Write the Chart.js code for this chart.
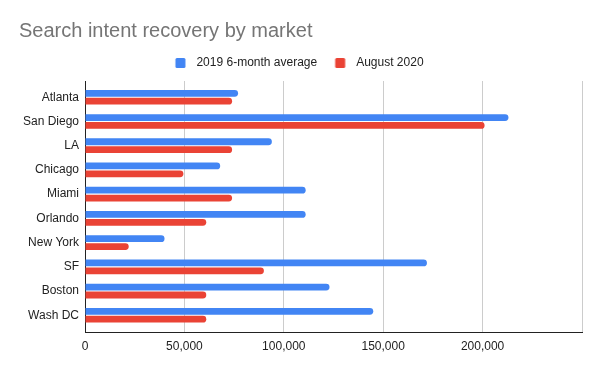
<!DOCTYPE html>
<html>
<head>
<meta charset="utf-8">
<title>Search intent recovery by market</title>
<script src="https://cdn.jsdelivr.net/npm/chart.js@4/dist/chart.umd.min.js"></script>
<style>
    body { margin: 0; background: #fff; }
    #wrap { width: 600px; height: 371px; position: relative; }
</style>
</head>
<body>
<div id="wrap"><canvas id="marketChart"></canvas></div>
<script>
const markets = ['Atlanta', 'San Diego', 'LA', 'Chicago', 'Miami', 'Orlando', 'New York', 'SF', 'Boston', 'Wash DC'];
const avg2019 = [77000, 213000, 94000, 68000, 111000, 111000, 40000, 172000, 123000, 145000];
const aug2020 = [74000, 201000, 74000, 49500, 74000, 61000, 22000, 90000, 61000, 61000];
const xTickLabels = ['0', '50,000', '100,000', '150,000', '200,000', ''];

const FONT = "'Liberation Sans', Arial, sans-serif";

// legend marker: square sits left of the item start so the gap to the text matches
function swatch(color) {
    const c = document.createElement('canvas');
    c.width = 30;
    c.height = 10;
    const g = c.getContext('2d');
    g.fillStyle = color;
    g.beginPath();
    g.roundRect(6.5, 0, 10, 10, 1.5);
    g.fill();
    return c;
}

const ctx = document.getElementById('marketChart').getContext('2d');
new Chart(ctx, {
    type: 'bar',
    data: {
        datasets: [
            {
                label: '2019 6-month average',
                data: avg2019.map((v, i) => ({ x: v, y: i })),
                backgroundColor: '#4285f4',
                pointStyle: swatch('#4285f4'),
                borderRadius: 3.5,
                categoryPercentage: 0.65,
                barPercentage: 0.86
            },
            {
                label: 'August 2020',
                data: aug2020.map((v, i) => ({ x: v, y: i })),
                backgroundColor: '#ea4335',
                pointStyle: swatch('#ea4335'),
                borderRadius: 3.5,
                categoryPercentage: 0.65,
                barPercentage: 0.86
            }
        ]
    },
    options: {
        indexAxis: 'y',
        responsive: true,
        maintainAspectRatio: false,
        animation: false,
        layout: { padding: { left: 19, right: 18, top: 0, bottom: 0 } },
        plugins: {
            title: {
                display: true,
                text: 'Search intent recovery by market',
                align: 'start',
                color: '#757575',
                font: { family: FONT, size: 20, weight: 'normal', lineHeight: 1.2 },
                padding: { top: 19, bottom: -6 }
            },
            legend: {
                display: true,
                position: 'top',
                align: 'center',
                labels: {
                    color: '#222',
                    font: { family: FONT, size: 12 },
                    usePointStyle: true,
                    pointStyleWidth: 13,
                    boxHeight: 10,
                    padding: 20
                }
            },
            tooltip: { enabled: false }
        },
        scales: {
            x: {
                type: 'linear',
                min: 0,
                max: 250000,
                ticks: {
                    stepSize: 50000,
                    color: '#222',
                    font: { family: FONT, size: 12 },
                    padding: 7,
                    maxRotation: 0,
                    callback: (v, i) => xTickLabels[i]
                },
                grid: { color: '#cccccc', drawTicks: false },
                border: { display: true, color: '#222' },
                afterFit: (scale) => { scale.height = 39; }
            },
            // empty top axis, only adds a few pixels between legend and plot
            spacer: {
                type: 'linear',
                position: 'top',
                axis: 'x',
                ticks: { display: false },
                grid: { display: false, drawTicks: false },
                border: { display: false },
                afterFit: (scale) => { scale.height = 2; }
            },
            y: {
                type: 'linear',
                offset: false,
                min: -0.67,
                max: 9.69,
                reverse: true,
                afterBuildTicks: (scale) => {
                    scale.ticks = markets.map((m, i) => ({ value: i }));
                },
                ticks: {
                    color: '#222',
                    font: { family: FONT, size: 12 },
                    padding: 6,
                    autoSkip: false,
                    callback: (v) => markets[v]
                },
                grid: { display: false, drawTicks: false, offset: false },
                border: { display: true, color: '#222' },
                afterFit: (scale) => { scale.width = 66; }
            }
        }
    }
});
</script>
</body>
</html>
